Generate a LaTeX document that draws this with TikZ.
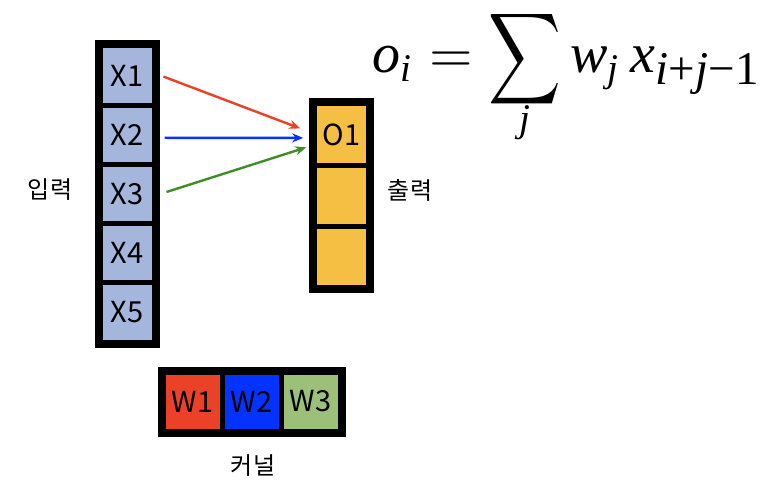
\documentclass[tikz,border=0pt]{standalone}
\usepackage{amsmath}
\usepackage{fontspec}
\newfontfamily\kr{Noto Sans CJK KR}
\newfontfamily\tms{Liberation Serif}
\newcommand{\ti}[1]{\text{\tms\itshape #1}}
\newcommand{\tr}[1]{\text{\tms #1}}
\newcommand{\bigsum}{\mathop{\vcenter{\hbox{\scalebox{0.9}[1.14]{$\displaystyle\sum$}}}}\limits}
\usetikzlibrary{arrows.meta}
\definecolor{inblue}{HTML}{A4B6DC}
\definecolor{outyel}{HTML}{F4BF42}
\definecolor{wred}{HTML}{EB4127}
\definecolor{wblue}{HTML}{0433FF}
\definecolor{wgreen}{HTML}{9CBF79}
\definecolor{agreen}{HTML}{3E8E27}
\tikzset{
  cell/.style={draw=black, line width=5pt, inner sep=0pt, minimum width=54pt, minimum height=59.2pt, font=\kr\fontsize{29}{30}\selectfont},
  kcell/.style={cell, minimum width=59pt, minimum height=59pt},
  lbl/.style={font=\kr\fontsize{24}{26}\selectfont},
  conn/.style={line width=2.4pt, -{Stealth[length=11pt,width=9pt]}}
}
\begin{document}
\begin{tikzpicture}[x=1pt,y=-1pt]
\useasboundingbox[fill=white] (0,0) rectangle (776,494);
% input column
\node[cell, fill=inblue] (x1) at (127,75.6) {X1};
\node[cell, fill=inblue] (x2) at (127,134.8) {X2};
\node[cell, fill=inblue] (x3) at (127,194) {X3};
\node[cell, fill=inblue] (x4) at (127,253.2) {X4};
\node[cell, fill=inblue] (x5) at (127,312.4) {X5};
\draw[line width=6pt] (x1.north west) rectangle (x5.south east);
% output column
\node[cell, fill=outyel, minimum height=61.3pt] (o1) at (341.7,134.4) {O1};
\node[cell, fill=outyel, minimum height=61.3pt] (o2) at (341.7,195.7) {};
\node[cell, fill=outyel, minimum height=61.3pt] (o3) at (341.7,257) {};
\draw[line width=6pt] (o1.north west) rectangle (o3.south east);
% kernel
\node[kcell, fill=wred] (w1) at (192.5,401.5) {W1};
\node[kcell, fill=wblue] (w2) at (251.5,401.5) {W2};
\node[kcell, fill=wgreen] (w3) at (310.5,401.5) {W3};
\draw[line width=6pt] (w1.north west) rectangle (w3.south east);
% labels
\node[lbl] (lin) at (50,190) {입력};
\node[lbl] (lout) at (410,190) {출력};
\node[lbl] (lker) at (253,466) {커널};
% formula
\node[scale=5.6, transform shape, inner sep=0pt, anchor=base west] (eq) at (371,73) {$\displaystyle \ti{o}_{\ti{i}} = \bigsum_{\text{\raisebox{2.1pt}[0pt][0pt]{\tms\itshape j}}} \ti{w}_{\ti{j}}\,\ti{x}_{\text{\scalebox{1.2}{\tms\itshape i\upshape +\itshape j\upshape −1}}}$};
% connectors
\draw[conn, draw=wred, fill=wred] ([xshift=7pt,yshift=-1pt]x1.east) -- ([xshift=-12pt,yshift=6pt]o1.west);
\draw[conn, draw=wblue, fill=wblue] ([xshift=8pt,yshift=-3pt]x2.east) -- ([xshift=-9pt,yshift=-3.5pt]o1.west);
\draw[conn, draw=agreen, fill=agreen] ([xshift=10pt,yshift=2pt]x3.east) -- ([xshift=-6pt,yshift=-13pt]o1.west);
\end{tikzpicture}
\end{document}
